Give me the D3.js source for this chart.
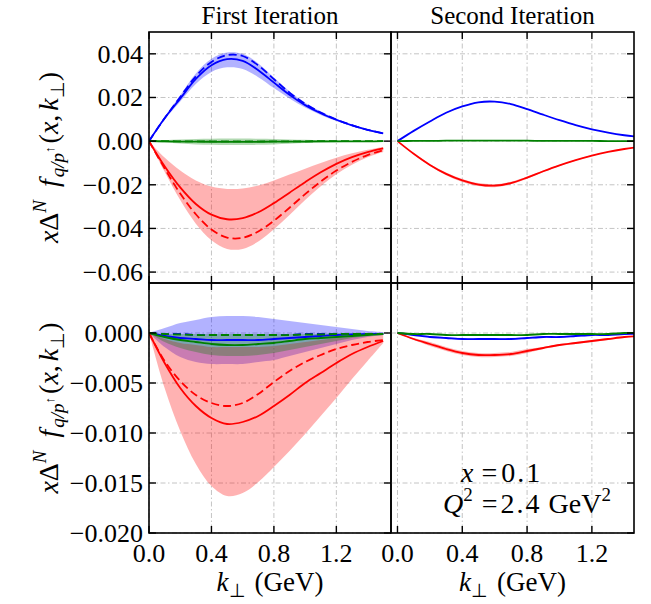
<!DOCTYPE html>
<html>
<head>
<meta charset="utf-8">
<script src="https://cdn.jsdelivr.net/npm/d3@7"></script>
<style>
  body { margin: 0; background: #fff; }
</style>
</head>
<body>
<svg id="chart" width="651" height="604" font-family="'Liberation Serif'"></svg>
<script>
// k_perp grid (GeV), shared by every curve
const kGrid = [0, 0.1, 0.2, 0.3, 0.4, 0.5, 0.6, 0.7, 0.8, 0.9, 1.0, 1.1, 1.2, 1.3, 1.4, 1.5]

// --- first iteration, top row
const aBlue     = [0, 0.0105, 0.0195, 0.0285, 0.0348, 0.0376, 0.0368, 0.0325, 0.0268, 0.0212, 0.0165, 0.0128, 0.0098, 0.0072, 0.0052, 0.0036]
const aBlueDash = [0, 0.0105, 0.0202, 0.0297, 0.0363, 0.0394, 0.0390, 0.0347, 0.0284, 0.0222, 0.0171, 0.0131, 0.0099, 0.0073, 0.0052, 0.0036]
const aBlueHi   = [0, 0.0110, 0.0210, 0.0310, 0.0378, 0.0406, 0.0400, 0.0356, 0.0291, 0.0228, 0.0176, 0.0136, 0.0103, 0.0076, 0.0055, 0.0038]
const aBlueLo   = [0, 0.0098, 0.0182, 0.0262, 0.0317, 0.0338, 0.0331, 0.0293, 0.0243, 0.0195, 0.0154, 0.0120, 0.0092, 0.0068, 0.0049, 0.0034]
const aGreen     = [0, -0.0001, -0.0002, -0.0002, -0.0003, -0.0003, -0.0003, -0.0003, -0.0002, -0.0002, -0.0002, -0.0001, -0.0001, -0.0001, -0.0001, 0]
const aGreenDash = [0, 0, -0.0001, -0.0001, -0.0001, -0.0001, -0.0001, -0.0001, -0.0001, -0.0001, -0.0001, 0, 0, 0, 0, 0]
const aGreenHi   = [0, 0.0004, 0.0007, 0.0010, 0.0011, 0.0012, 0.0012, 0.0011, 0.0010, 0.0008, 0.0006, 0.0004, 0.0003, 0.0002, 0.0001, 0]
const aGreenLo   = [0, -0.0006, -0.0011, -0.0015, -0.0017, -0.0018, -0.0018, -0.0017, -0.0015, -0.0012, -0.0009, -0.0007, -0.0005, -0.0003, -0.0002, -0.0001]
const aRed     = [0, -0.0115, -0.0212, -0.0288, -0.0337, -0.0358, -0.0353, -0.0326, -0.0284, -0.0236, -0.0188, -0.0143, -0.0104, -0.0073, -0.0050, -0.0033]
const aRedDash = [0, -0.0125, -0.0240, -0.0335, -0.0405, -0.0442, -0.0443, -0.0414, -0.0365, -0.0305, -0.0243, -0.0185, -0.0135, -0.0095, -0.0064, -0.0042]
const aRedHi   = [0, -0.0075, -0.0135, -0.0180, -0.0208, -0.0219, -0.0217, -0.0203, -0.0180, -0.0153, -0.0126, -0.0100, -0.0076, -0.0056, -0.0040, -0.0027]
const aRedLo   = [0, -0.0140, -0.0270, -0.0378, -0.0454, -0.0494, -0.0494, -0.0460, -0.0404, -0.0338, -0.0270, -0.0207, -0.0152, -0.0108, -0.0074, -0.0050]

// --- second iteration, top row
const bBlue   = [0, 0.0047, 0.0090, 0.0130, 0.0159, 0.0178, 0.0181, 0.0170, 0.0147, 0.0121, 0.0096, 0.0073, 0.0054, 0.0039, 0.0027, 0.0018]
const bBlueHi = [0, 0.0048, 0.0092, 0.0132, 0.0161, 0.0180, 0.0183, 0.0172, 0.0149, 0.0122, 0.0097, 0.0074, 0.0055, 0.0040, 0.0028, 0.0018]
const bBlueLo = [0, 0.0046, 0.0088, 0.0128, 0.0157, 0.0176, 0.0179, 0.0168, 0.0145, 0.0120, 0.0095, 0.0072, 0.0053, 0.0038, 0.0026, 0.0017]
const bGreen  = [0, 0.0001, 0.0001, 0.0002, 0.0002, 0.0002, 0.0002, 0.0002, 0.0002, 0.0001, 0.0001, 0.0001, 0.0001, 0, 0, 0]
const bRed    = [0, -0.0058, -0.0109, -0.0150, -0.0180, -0.0199, -0.0204, -0.0192, -0.0167, -0.0138, -0.0111, -0.0087, -0.0066, -0.0049, -0.0036, -0.0026]
const bRedHi  = [0, -0.0056, -0.0105, -0.0144, -0.0173, -0.0192, -0.0197, -0.0186, -0.0162, -0.0134, -0.0108, -0.0085, -0.0064, -0.0048, -0.0035, -0.0025]
const bRedLo  = [0, -0.0060, -0.0113, -0.0156, -0.0187, -0.0206, -0.0211, -0.0198, -0.0172, -0.0142, -0.0114, -0.0089, -0.0068, -0.0050, -0.0037, -0.0027]

// --- first iteration, bottom row
const cBlue     = [0, -0.0003, -0.0005, -0.0006, -0.0007, -0.0007, -0.0007, -0.0007, -0.0006, -0.0005, -0.0004, -0.0003, -0.0002, -0.00015, -0.0001, -0.0001]
const cBlueDash = [0, -0.0001, -0.0001, -0.0002, -0.0002, -0.0002, -0.0002, -0.0002, -0.0002, -0.0002, -0.0001, -0.0001, -0.0001, -0.0001, -0.0001, -0.0001]
const cBlueHi   = [0, 0.0005, 0.0010, 0.0013, 0.0016, 0.0017, 0.0017, 0.0016, 0.0014, 0.0012, 0.0010, 0.0008, 0.0006, 0.0004, 0.0002, 0.0001]
const cBlueLo   = [0, -0.0014, -0.0024, -0.0029, -0.0031, -0.0031, -0.0031, -0.0029, -0.0027, -0.0023, -0.0019, -0.0015, -0.0011, -0.0007, -0.0004, -0.0002]
const cGreen     = [0, -0.0004, -0.0007, -0.0009, -0.0011, -0.0012, -0.0012, -0.0011, -0.0010, -0.0008, -0.0006, -0.0005, -0.0004, -0.0003, -0.0002, -0.0001]
const cGreenDash = [0, -0.0001, -0.00015, -0.0002, -0.0002, -0.0002, -0.0002, -0.0002, -0.0002, -0.0002, -0.00015, -0.00015, -0.0001, -0.0001, -0.0001, -0.0001]
const cGreenHi   = [0, -0.0001, -0.0001, -0.0001, -0.0001, -0.0001, -0.0001, -0.0001, -0.0001, -0.0001, -0.0001, -0.0001, 0, 0, 0, 0]
const cGreenLo   = [0, -0.0009, -0.0015, -0.0019, -0.0022, -0.0023, -0.0023, -0.0022, -0.0020, -0.0017, -0.0014, -0.0011, -0.0008, -0.0005, -0.0003, -0.0002]
const cRed     = [0, -0.0030, -0.0055, -0.0073, -0.0085, -0.0091, -0.0089, -0.0083, -0.0073, -0.0062, -0.0050, -0.0040, -0.0030, -0.0021, -0.0014, -0.0008]
const cRedDash = [0, -0.0028, -0.0048, -0.0062, -0.0070, -0.0073, -0.0070, -0.0061, -0.0049, -0.0038, -0.0029, -0.0022, -0.0016, -0.0012, -0.0009, -0.0007]
const cRedHi   = [0, -0.0006, -0.0010, -0.0012, -0.0014, -0.0014, -0.0014, -0.0014, -0.0013, -0.0011, -0.0009, -0.0007, -0.0005, -0.0004, -0.0003, -0.0002]
const cRedLo   = [0, -0.0055, -0.0098, -0.0131, -0.0153, -0.0163, -0.0160, -0.0149, -0.0134, -0.0118, -0.0101, -0.0083, -0.0065, -0.0046, -0.0028, -0.0010]

// --- second iteration, bottom row
const dBlue   = [0, -0.0002, -0.0004, -0.0005, -0.0006, -0.0006, -0.0006, -0.0006, -0.0005, -0.0004, -0.0004, -0.0003, -0.0002, -0.0002, -0.0001, -0.0001]
const dBlueHi = [0, -0.0001, -0.0003, -0.0004, -0.0005, -0.0005, -0.0005, -0.0005, -0.0004, -0.0003, -0.0003, -0.0002, -0.0002, -0.0001, -0.0001, 0]
const dBlueLo = [0, -0.0003, -0.0005, -0.0006, -0.0007, -0.0007, -0.0007, -0.0007, -0.0006, -0.0005, -0.0005, -0.0004, -0.0003, -0.0002, -0.0002, -0.0001]
const dGreen  = [0, -0.0001, -0.0001, -0.0002, -0.0002, -0.0002, -0.0002, -0.0002, -0.0002, -0.0001, -0.0001, -0.0001, -0.0001, -0.0001, 0, 0]
const dRed    = [0, -0.0006, -0.0011, -0.0016, -0.0020, -0.0022, -0.0022, -0.0021, -0.0018, -0.0015, -0.0012, -0.0010, -0.0008, -0.0006, -0.0004, -0.0003]
const dRedHi  = [0, -0.0005, -0.0009, -0.0014, -0.0018, -0.0020, -0.0020, -0.0019, -0.0016, -0.0014, -0.0011, -0.0009, -0.0007, -0.0005, -0.0004, -0.0003]
const dRedLo  = [0, -0.0007, -0.0013, -0.0018, -0.0022, -0.0024, -0.0024, -0.0023, -0.0020, -0.0016, -0.0013, -0.0011, -0.0009, -0.0007, -0.0005, -0.0003]

const xTicks = [0, 0.4, 0.8, 1.2]
const yTicksTop = [0.04, 0.02, 0, -0.02, -0.04, -0.06]
const yTicksBot = [0, -0.005, -0.01, -0.015, -0.02]
const colTitles = ['First Iteration', 'Second Iteration']

const BLUE = '#0000ff', RED = '#ff0000', GREEN = '#008000'
const FONT = '"Liberation Serif"'   // single quoted family name, lists fell back to sans

const svg = d3.select('#chart')

// panel frames
const colL = [149, 391], colR = [391, 634]
const rowT = [32, 283], rowB = [283, 533]

const xLeft  = d3.scaleLinear().domain([0, 1.55]).range(colL)
const xRight = d3.scaleLinear().domain([-0.04, 1.46]).range(colR)
const yTop = d3.scaleLinear().domain([-0.065, 0.05]).range([rowT[1], rowT[0]])
const yBot = d3.scaleLinear().domain([-0.02, 0.005]).range([rowB[1], rowB[0]])

const band = (lo, hi, color) => ({ lo, hi, color })
const line = (v, color, dash) => ({ v, color, dash })

const panels = [
  { id: 'a', x: xLeft, y: yTop, yTicks: yTicksTop, yFmt: d3.format('.2f'), labelsY: true, labelsX: false,
    bands: [band(aBlueLo, aBlueHi, BLUE), band(aRedLo, aRedHi, RED), band(aGreenLo, aGreenHi, GREEN)],
    lines: [line(aBlue, BLUE), line(aBlueDash, BLUE, true), line(aRed, RED), line(aRedDash, RED, true),
            line(aGreen, GREEN), line(aGreenDash, GREEN, true)] },
  { id: 'b', x: xRight, y: yTop, yTicks: yTicksTop, labelsY: false, labelsX: false,
    bands: [band(bBlueLo, bBlueHi, BLUE), band(bRedLo, bRedHi, RED)],
    lines: [line(bBlue, BLUE), line(bRed, RED), line(bGreen, GREEN)] },
  { id: 'c', x: xLeft, y: yBot, yTicks: yTicksBot, yFmt: d3.format('.3f'), labelsY: true, labelsX: true,
    bands: [band(cBlueLo, cBlueHi, BLUE), band(cRedLo, cRedHi, RED), band(cGreenLo, cGreenHi, GREEN)],
    lines: [line(cBlue, BLUE), line(cBlueDash, BLUE, true), line(cRed, RED), line(cRedDash, RED, true),
            line(cGreen, GREEN), line(cGreenDash, GREEN, true)] },
  { id: 'd', x: xRight, y: yBot, yTicks: yTicksBot, labelsY: false, labelsX: true,
    bands: [band(dBlueLo, dBlueHi, BLUE), band(dRedLo, dRedHi, RED)],
    lines: [line(dBlue, BLUE), line(dRed, RED), line(dGreen, GREEN)] }
]

const defs = svg.append('defs')
const tickLen = 7

panels.forEach(p => {
  const [x0, x1] = p.x.range()
  const [y1, y0] = p.y.range()
  const g = svg.append('g').attr('class', 'panel-' + p.id)

  defs.append('clipPath').attr('id', 'clip-' + p.id)
    .append('rect').attr('x', x0).attr('y', y0).attr('width', x1 - x0).attr('height', y1 - y0)

  // 网格
  const grid = g.append('g').attr('stroke', '#c4c4c4').attr('stroke-width', 1)
    .attr('stroke-dasharray', '5,2.5,1.5,2.5')
  grid.selectAll('line.gx').data(xTicks).join('line')
    .attr('x1', d => p.x(d)).attr('x2', d => p.x(d)).attr('y1', y0).attr('y2', y1)
  grid.selectAll('line.gy').data(p.yTicks).join('line')
    .attr('class', 'gy')
    .attr('x1', x0).attr('x2', x1).attr('y1', d => p.y(d)).attr('y2', d => p.y(d))

  const plot = g.append('g').attr('clip-path', `url(#clip-${p.id})`)

  const area = d3.area()
    .x((_, i) => p.x(kGrid[i]))
    .curve(d3.curveCatmullRom)

  p.bands.forEach(b => {
    plot.append('path')
      .attr('d', area.y0((_, i) => p.y(b.lo[i])).y1((_, i) => p.y(b.hi[i]))(kGrid))
      .attr('fill', b.color).attr('fill-opacity', 0.3).attr('stroke', 'none')
  })

  const lineGen = d3.line().curve(d3.curveCatmullRom)
  p.lines.forEach(l => {
    plot.append('path')
      .attr('d', lineGen(kGrid.map((k, i) => [p.x(k), p.y(l.v[i])])))
      .attr('fill', 'none').attr('stroke', l.color).attr('stroke-width', 1.8)
      .attr('stroke-dasharray', l.dash ? '8,4' : null)
  })

  // ticks (inward)
  const tk = g.append('g').attr('stroke', '#000').attr('stroke-width', 1.4)
  xTicks.forEach(t => {
    tk.append('line').attr('x1', p.x(t)).attr('x2', p.x(t)).attr('y1', y1).attr('y2', y1 - tickLen)
    tk.append('line').attr('x1', p.x(t)).attr('x2', p.x(t)).attr('y1', y0).attr('y2', y0 + tickLen)
  })
  p.yTicks.forEach(t => {
    if (p.labelsY) tk.append('line').attr('x1', x0).attr('x2', x0 + tickLen).attr('y1', p.y(t)).attr('y2', p.y(t))
    tk.append('line').attr('x1', x1).attr('x2', x1 - tickLen).attr('y1', p.y(t)).attr('y2', p.y(t))
  })

  g.append('rect').attr('x', x0).attr('y', y0).attr('width', x1 - x0).attr('height', y1 - y0)
    .attr('fill', 'none').attr('stroke', '#000').attr('stroke-width', 1.6)

  // tick labels sit straight on the svg, like the titles
  if (p.labelsY) {
    svg.selectAll('text.ytl-' + p.id).data(p.yTicks).join('text')
      .attr('class', 'ytl-' + p.id)
      .attr('x', x0 - 6).attr('y', d => p.y(d) + 9)
      .attr('text-anchor', 'end')
      .style('font-family', FONT).style('font-size', '26px')
      .text(d => p.yFmt(d))
  }
  if (p.labelsX) {
    svg.selectAll('text.xtl-' + p.id).data(xTicks).join('text')
      .attr('class', 'xtl-' + p.id)
      .attr('x', d => p.x(d)).attr('y', 562)
      .attr('text-anchor', 'middle')
      .style('font-family', FONT).style('font-size', '26px')
      .text(d3.format('.1f'))
  }
})

// column titles
svg.selectAll('text.title').data(colTitles).join('text')
  .attr('class', 'title')
  .attr('x', (_, i) => i === 0 ? (colL[0] + colL[1]) / 2 : (colR[0] + colR[1]) / 2)
  .attr('y', 24)
  .attr('text-anchor', 'middle')
  .style('font-family', FONT).style('font-size', '25px')
  .text(d => d)

// text with super/subscripts
function mathText(sel, parts, base) {
  sel.style('font-family', FONT).style('font-size', base + 'px')
  parts.forEach(pt => {
    sel.append('tspan')
      .attr('dy', pt.dy || 0)
      .attr('dx', pt.dx || 0)
      .style('font-family', FONT)
      .style('font-size', (pt.size || base) + 'px')
      .style('font-style', pt.it ? 'italic' : 'normal')
      .style('letter-spacing', pt.ls ? pt.ls + 'px' : null)
      .text(pt.t)
  })
}

const yLabelParts = [
  { t: 'x', it: true }, { t: 'Δ' }, { t: 'N', it: true, size: 19, dy: -12 },
  { t: 'f', it: true, dy: 12, dx: 13 }, { t: 'q/p', it: true, size: 19, dy: 6, dx: 2 },
  { t: '↑', size: 13, dy: -10 }, { t: '(', dy: 4, dx: 3 }, { t: 'x', it: true }, { t: ',' },
  { t: 'k', it: true, dx: 4 }, { t: '⊥', size: 19, dy: 6 }, { t: ')', dy: -6 }
]
;[rowT, rowB].forEach(r => {
  const t = svg.append('text')
    .attr('transform', `translate(58,${(r[0] + r[1]) / 2}) rotate(-90)`)
    .attr('text-anchor', 'middle')
  mathText(t, yLabelParts, 28)
})

;[colL, colR].forEach(c => {
  const t = svg.append('text')
    .attr('x', (c[0] + c[1]) / 2).attr('y', 591)
    .attr('text-anchor', 'middle')
  mathText(t, [{ t: 'k', it: true }, { t: '⊥', size: 19, dy: 6 }, { t: '(GeV)', dy: -6, dx: 9 }], 27)
})

// x, Q² annotation
const ann1 = svg.append('text').attr('x', 461).attr('y', 482)
mathText(ann1, [{ t: 'x', it: true }, { t: '=', dx: 8 }, { t: '0.1', dx: 4, ls: 2 }], 28)
const ann2 = svg.append('text').attr('x', 443).attr('y', 513)
mathText(ann2, [{ t: 'Q', it: true }, { t: '2', size: 19, dy: -12 }, { t: '=', dy: 12, dx: 9 },
  { t: '2.4', dx: 3, ls: 2 }, { t: 'GeV', dx: 7 }, { t: '2', size: 19, dy: -12 }], 28)
</script>
</body>
</html>
